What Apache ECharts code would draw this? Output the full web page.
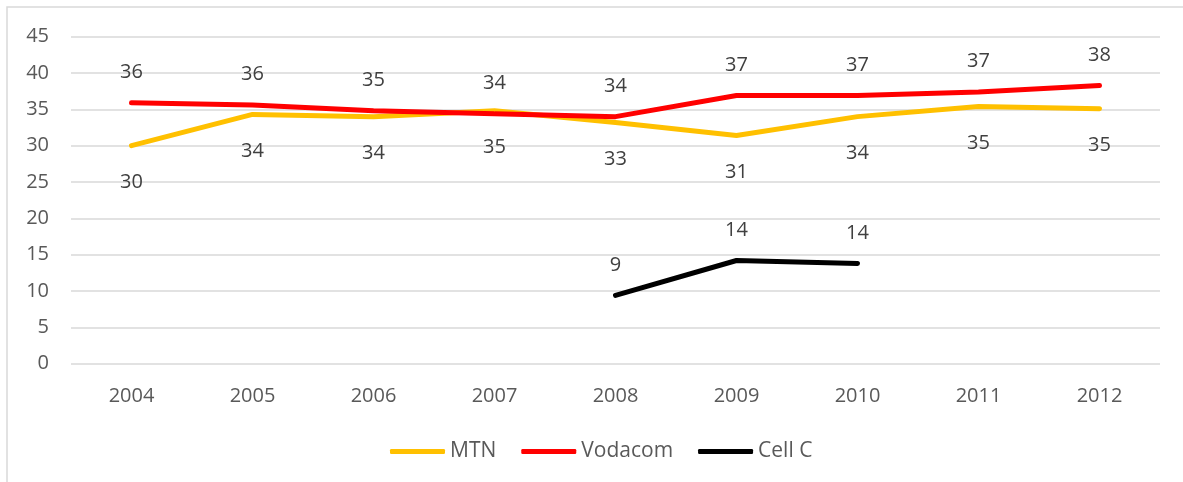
<!DOCTYPE html>
<html>
<head>
<meta charset="utf-8">
<script src="https://cdn.jsdelivr.net/npm/echarts@6/dist/echarts.min.js"></script>
<style>
  html, body { margin: 0; padding: 0; background: #fff; }
  #diagram { width: 1183px; height: 482px; }
</style>
</head>
<body>
<div id="diagram"></div>
<script>
var years = ['2004', '2005', '2006', '2007', '2008', '2009', '2010', '2011', '2012'];
var mtn = [30.0, 34.3, 34.0, 34.8, 33.2, 31.4, 34.0, 35.4, 35.1];
var vodacom = [35.9, 35.6, 34.8, 34.4, 34.0, 36.9, 36.9, 37.4, 38.3];
var cellC = [null, null, null, null, 9.4, 14.2, 13.8, null, null];

var fontFamily = '"Open Sans", "Liberation Sans", sans-serif';

// 数据标签：取整显示
function makeLabel(pos, dist) {
  return {
    show: true,
    position: pos,
    distance: dist,
    fontFamily: fontFamily,
    fontSize: 20,
    color: '#404040',
    formatter: function (p) { return Math.round(p.value); }
  };
}

function makeSeries(name, data, color, pos, dist) {
  return {
    name: name,
    type: 'line',
    data: data,
    symbol: 'circle',
    symbolSize: 1,
    showSymbol: true,
    connectNulls: false,
    lineStyle: { color: color, width: 5, cap: 'round', join: 'round' },
    itemStyle: { color: color },
    label: makeLabel(pos, dist),
    emphasis: { disabled: true }
  };
}

var myChart = echarts.init(document.getElementById('diagram'));

var option = {
  animation: false,
  backgroundColor: '#fff',
  graphic: [{
    type: 'rect',
    shape: { x: 7, y: 7, width: 1200, height: 500 },
    style: { fill: 'none', stroke: '#d9d9d9', lineWidth: 1.5 },
    silent: true
  }],
  grid: { left: 71, right: 23, top: 36.7, bottom: 118.3 },
  legend: {
    top: 436,
    left: 385,
    icon: 'roundRect',
    itemWidth: 55,
    itemHeight: 5,
    itemGap: 25,
    textStyle: { fontFamily: fontFamily, fontSize: 21, color: '#595959' },
    data: ['MTN', 'Vodacom', 'Cell C']
  },
  xAxis: {
    type: 'category',
    data: years,
    boundaryGap: true,
    axisLine: { show: false },
    axisTick: { show: false },
    axisLabel: { margin: 23, fontFamily: fontFamily, fontSize: 20, color: '#595959' }
  },
  yAxis: {
    type: 'value',
    min: 0,
    max: 45,
    interval: 5,
    axisLine: { show: false },
    axisTick: { show: false },
    axisLabel: { margin: 22, fontFamily: fontFamily, fontSize: 20, color: '#595959' },
    splitLine: { lineStyle: { color: '#d9d9d9', width: 1.5 } }
  },
  series: [
    makeSeries('MTN', mtn, '#FFC000', 'bottom', 26),
    makeSeries('Vodacom', vodacom, '#FF0000', 'top', 20),
    makeSeries('Cell C', cellC, '#000000', 'top', 20)
  ]
};

myChart.setOption(option);
</script>
</body>
</html>
